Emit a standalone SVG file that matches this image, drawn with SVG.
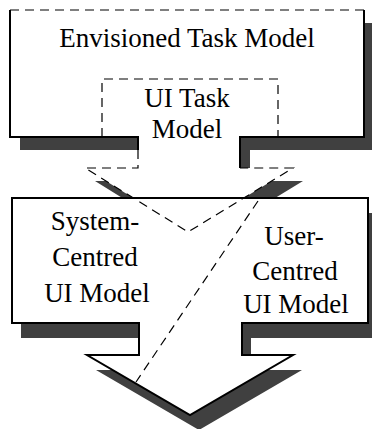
<svg xmlns="http://www.w3.org/2000/svg" width="372" height="429" viewBox="0 0 372 429">
<style>
.shadow{fill:#404040;stroke:none}
.fill{fill:#ffffff;stroke:none}
.solid{fill:none;stroke:#000;stroke-width:2}
.dash{fill:none;stroke:#000;stroke-width:1.2;stroke-dasharray:9 6}
.lbl{font-family:"Liberation Serif","Times New Roman",serif;font-size:27px;fill:#000;text-anchor:middle}
</style>
<rect width="372" height="429" fill="#fff"/>
<g id="envisioned-task-model">
<path class="shadow" transform="translate(10,13)" d="M10,10 H364 V137 H240 V168 H293 L188,232 L85,168 H138 V137 H10 Z"/>
<path class="fill" d="M10,10 H364 V137 H240 V168 H293 L188,232 L85,168 H138 V137 H10 Z"/>
</g>
<g id="lower-models">
<path class="shadow" transform="translate(9,15)" d="M12,198 H368 V323 H242 V355 H293 L190,415 L87,355 H139 V323 H12 Z"/>
<path class="fill" d="M12,198 H368 V323 H242 V355 H293 L190,415 L87,355 H139 V323 H12 Z"/>
<path class="solid" d="M12,198 H368 V323 H242 V355 H293 L190,415 L87,355 H139 V323 H12 Z"/>
<text class="lbl" x="95" y="230">System-</text>
<text class="lbl" x="95" y="266">Centred</text>
<text class="lbl" x="97" y="302">UI Model</text>
<text class="lbl" x="294" y="245">User-</text>
<text class="lbl" x="295" y="280">Centred</text>
<text class="lbl" x="296" y="313">UI Model</text>
</g>
<g id="envisioned-outline">
<path class="solid" d="M10,10 V137 H138 V150"/>
<path class="solid" d="M364,10 V137 H240 V168"/>
<path class="dash" d="M10,10 H364"/>
<text class="lbl" x="187" y="47">Envisioned Task Model</text>
</g>
<g id="ui-task-model">
<path class="dash" d="M102,137 V79 H278 V137"/>
<path class="dash" d="M138,150 V168 H85 L188,232 L293,168 H240"/>
<text class="lbl" x="187" y="107">UI Task</text>
<text class="lbl" x="187" y="138">Model</text>
</g>
<g id="connectors">
<path class="dash" d="M258,201 L136,382"/>
</g>
</svg>
